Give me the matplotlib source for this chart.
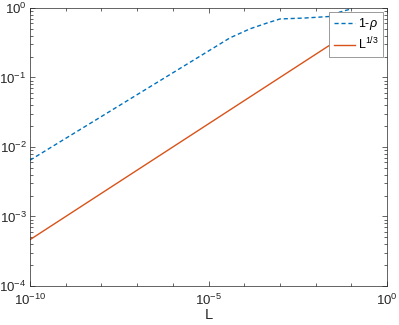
import numpy as np
import matplotlib
matplotlib.use('Agg')
import matplotlib.pyplot as plt
from matplotlib.ticker import LogLocator, FixedLocator, NullFormatter, FuncFormatter

plt.rcParams['font.family'] = ['Liberation Sans', 'DejaVu Sans']
plt.rcParams['mathtext.fontset'] = 'custom'
plt.rcParams['mathtext.rm'] = 'Liberation Sans'
plt.rcParams['mathtext.it'] = 'Liberation Sans:italic'
plt.rcParams['mathtext.default'] = 'regular'

# 1 - rho (log10 L, log10 value)
rho_logL = [-10.0, -7.2, -4.4, -3.84, -3.36, -3.0, -2.3, -1.6, -1.32, -0.98]
rho_logv = [-2.19, -1.31, -0.43, -0.30, -0.216, -0.158, -0.144, -0.122, -0.058, -0.01]

# L^(1/3) reference line
ref_L = [1e-10, 1e-1]

blue = '#0072BD'
orange = '#D95319'
axcol = '#262626'

fig = plt.figure(figsize=(3.99, 3.25), dpi=100)
ax = fig.add_axes([0.0752, 0.12, 0.8948, 0.8554])

L1 = [10 ** v for v in rho_logL]
r1 = [10 ** v for v in rho_logv]
ax.loglog(L1, r1, linestyle=(0, (3, 2)), color=blue, lw=1.0, label=r'1-$\it{\rho}$')
ref_L = np.array(ref_L)
ax.loglog(ref_L, ref_L ** (1 / 3), color=orange, lw=1.0, label=r'L$^{1/3}$')

ax.set_xlim(1e-10, 1)
ax.set_ylim(1e-4, 1)

def fmt(v, pos):
    e = int(round(np.log10(v)))
    return r'10$^{%d}$' % e

ax.xaxis.set_major_locator(FixedLocator([1e-10, 1e-5, 1]))
ax.xaxis.set_minor_locator(FixedLocator([10.0 ** k for k in range(-10, 1)]))
ax.xaxis.set_major_formatter(FuncFormatter(fmt))
ax.xaxis.set_minor_formatter(NullFormatter())
ax.yaxis.set_major_locator(FixedLocator([10.0 ** k for k in range(-4, 1)]))
ax.yaxis.set_minor_locator(LogLocator(base=10, subs=np.arange(2, 10), numticks=20))
ax.yaxis.set_major_formatter(FuncFormatter(fmt))
ax.yaxis.set_minor_formatter(NullFormatter())

ax.tick_params(which='both', direction='in', top=True, right=True, colors=axcol,
               labelsize=9.5, width=0.5)
ax.tick_params(which='major', length=3.5)
ax.tick_params(axis='y', which='major', pad=2.5)
ax.tick_params(axis='x', which='major', pad=5)
ax.tick_params(which='minor', length=2)
for s in ax.spines.values():
    s.set_color(axcol)
    s.set_linewidth(0.5)

ax.set_xlabel('L', fontsize=10.5, color=axcol, labelpad=0)

leg = ax.legend(loc='upper right', fontsize=9, frameon=True, fancybox=False,
                handlelength=1.7, handletextpad=0.25, borderpad=0.35,
                labelspacing=0.3, borderaxespad=0.3)
leg.get_frame().set_edgecolor('#8a8a8a')
leg.get_frame().set_linewidth(0.6)
leg.get_frame().set_alpha(1)

fig.savefig('out.png', dpi=100)
